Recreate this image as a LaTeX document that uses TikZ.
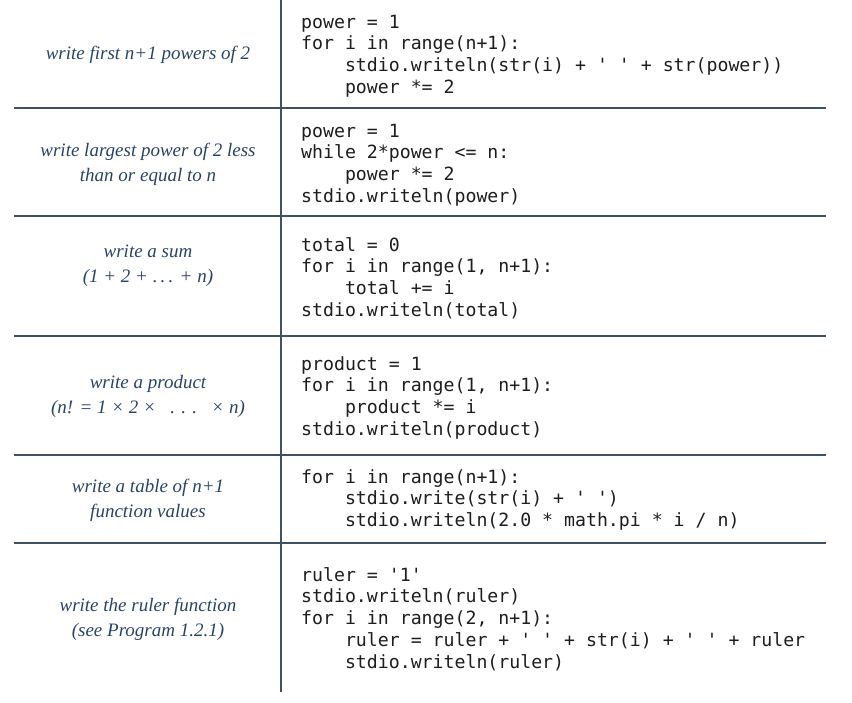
\documentclass[tikz,border=0pt]{standalone}
\usepackage{fontspec}
\setmonofont{DejaVu Sans Mono}
\setmainfont{Liberation Serif}
\definecolor{rulecol}{HTML}{3E5266}
\definecolor{labcol}{HTML}{2A4468}
\definecolor{codecol}{HTML}{1E1E1E}
\tikzset{
  rule/.style={draw=rulecol, line width=1.8pt},
  lab/.style={align=center, text=labcol, font=\fontsize{19}{25}\selectfont\itshape, inner sep=0pt},
  code/.style={anchor=base west, align=left, text=codecol, font=\ttfamily\fontsize{18.2}{21.8}\selectfont, inner sep=0pt},
}
\begin{document}
\begin{tikzpicture}[x=1pt,y=-1pt]
\useasboundingbox (0,0) rectangle (852,702);
\fill[white] (0,0) rectangle (852,702);
% rules
\coordinate (vtop) at (281,0);
\coordinate (vbot) at (281,692);
\draw[rule] (vtop) -- (vbot);
\foreach \yy/\nm in {108/a,216/b,336/c,455/d,543/e}{
  \coordinate (L\nm) at (14,\yy);
  \coordinate (R\nm) at (826,\yy);
  \draw[rule] (L\nm) -- (R\nm);
}
% labels
\node[lab] (t1) at (148,55) {write first \textit{n}+1 powers of 2};
\node[lab] (t2) at (148,164) {write largest power of 2 less\\than or equal to \textit{n}};
\node[lab] (t3) at (148,266) {write a sum\\(1 + 2 + .\,.\,. + \textit{n})};
\node[lab] (t4) at (148,396) {write a product\\(\textit{n}! = 1 × 2 ×\ \ \ .\,\,.\,\,.\ \ \ × \textit{n})};
\node[lab] (t5) at (148,500) {write a table of \textit{n}+1\\function values};
\node[lab] (t6) at (148,619) {write the ruler function\\(see Program 1.2.1)};
% code (anchor = baseline of last line)
\node[code] (c1) at (301,93.4) {power = 1\\for i in range(n+1):\\\ \ \ \ stdio.writeln(str(i) + ' ' + str(power))\\\ \ \ \ power *= 2};
\node[code] (c2) at (301,202.4) {power = 1\\while 2*power <= n:\\\ \ \ \ power *= 2\\stdio.writeln(power)};
\node[code] (c3) at (301,316.4) {total = 0\\for i in range(1, n+1):\\\ \ \ \ total += i\\stdio.writeln(total)};
\node[code] (c4) at (301,435.4) {product = 1\\for i in range(1, n+1):\\\ \ \ \ product *= i\\stdio.writeln(product)};
\node[code] (c5) at (301,526.6) {for i in range(n+1):\\\ \ \ \ stdio.write(str(i) + ' ')\\\ \ \ \ stdio.writeln(2.0 * math.pi * i / n)};
\node[code] (c6) at (301,668.2) {ruler = '1'\\stdio.writeln(ruler)\\for i in range(2, n+1):\\\ \ \ \ ruler = ruler + ' ' + str(i) + ' ' + ruler\\\ \ \ \ stdio.writeln(ruler)};
\end{tikzpicture}
\end{document}
